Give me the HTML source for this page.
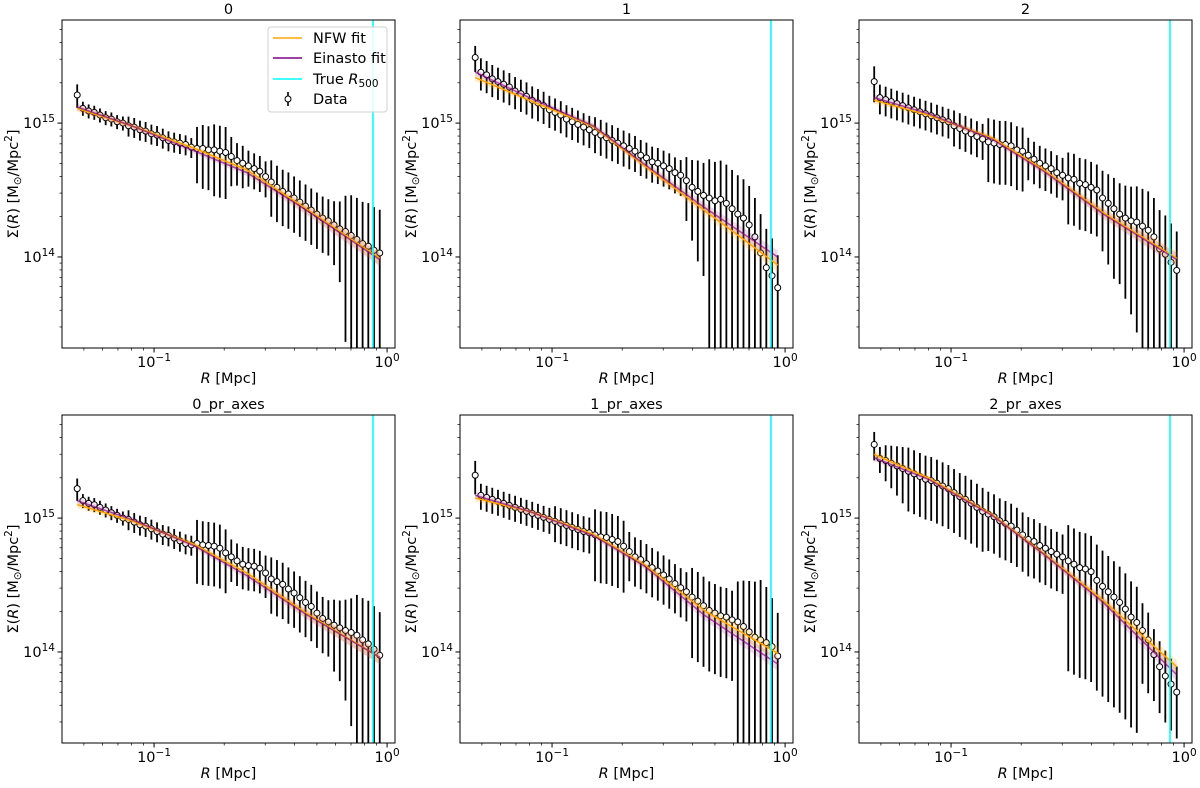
<!DOCTYPE html>
<html><head><meta charset="utf-8">
<style>
body{margin:0;background:#fff}
svg{display:block;font-family:"DejaVu Sans","Liberation Sans",sans-serif}
</style></head><body>
<svg id="fig" width="1200" height="788" viewBox="0 0 1200 788"></svg>
<script>
// ---- data ----
const R = [0.0468,0.0495,0.0524,0.0554,0.0586,0.0620,0.0656,0.0694,0.0735,0.0777,0.0822,0.0870,0.0920,0.0974,0.1030,0.1090,0.1153,0.1220,0.1291,0.1366,0.1445,0.1529,0.1618,0.1712,0.1811,0.1916,0.2028,0.2145,0.2270,0.2402,0.2541,0.2689,0.2844,0.3010,0.3184,0.3369,0.3565,0.3772,0.3990,0.4222,0.4467,0.4727,0.5000,0.5291,0.5598,0.5923,0.6266,0.6630,0.7015,0.7422,0.7852,0.8308,0.8790,0.9300];
const titles = ['0','1','2','0_pr_axes','1_pr_axes','2_pr_axes'];
const rTrue = [0.87,0.87,0.87,0.87,0.87,0.87];
const xTickExp = [-1,0];
const yTickExp = [14,15];
// log10 Sigma values
const logSig0 = [15.21,15.11,15.09,15.08,15.06,15.04,15.03,15.01,15.00,14.98,14.97,14.95,14.94,14.92,14.91,14.89,14.87,14.86,14.85,14.84,14.82,14.81,14.81,14.80,14.80,14.79,14.78,14.75,14.72,14.70,14.68,14.66,14.64,14.60,14.56,14.52,14.49,14.47,14.44,14.41,14.38,14.35,14.32,14.29,14.27,14.24,14.21,14.19,14.16,14.13,14.10,14.08,14.05,14.03];
const err0 = [0.2,0.12,0.12,0.12,0.12,0.12,0.12,0.12,0.12,0.17,0.17,0.17,0.17,0.17,0.17,0.17,0.17,0.17,0.17,0.17,0.17,0.45,0.5,0.5,0.55,0.55,0.55,0.4,0.35,0.35,0.3,0.3,0.3,0.3,0.45,0.45,0.45,0.45,0.45,0.45,0.45,0.45,0.45,0.45,0.45,0.5,0.6,0.85,1.0,1.05,1.05,1.1,1.1,1.1];
const logSig1 = [15.49,15.38,15.36,15.33,15.31,15.29,15.27,15.24,15.22,15.20,15.17,15.15,15.13,15.10,15.08,15.06,15.03,15.01,14.99,14.97,14.95,14.93,14.91,14.89,14.87,14.85,14.83,14.81,14.79,14.76,14.74,14.71,14.70,14.68,14.66,14.63,14.61,14.57,14.52,14.49,14.46,14.44,14.42,14.43,14.40,14.36,14.32,14.29,14.24,14.15,14.03,13.92,13.86,13.77];
const err1 = [0.22,0.27,0.27,0.27,0.27,0.27,0.27,0.27,0.27,0.27,0.27,0.27,0.27,0.27,0.27,0.27,0.27,0.27,0.27,0.27,0.27,0.3,0.3,0.3,0.3,0.3,0.3,0.3,0.3,0.3,0.3,0.3,0.3,0.3,0.3,0.3,0.3,0.5,0.6,0.7,0.75,0.95,0.95,0.95,0.95,0.95,0.95,0.95,0.95,0.95,0.95,0.95,0.9,0.75];
const logSig2 = [15.31,15.19,15.175,15.16,15.145,15.13,15.115,15.10,15.085,15.07,15.055,15.04,15.025,15.01,14.98,14.96,14.94,14.92,14.90,14.88,14.86,14.85,14.84,14.84,14.83,14.80,14.79,14.76,14.73,14.70,14.68,14.66,14.63,14.61,14.59,14.58,14.55,14.54,14.52,14.50,14.44,14.40,14.36,14.32,14.29,14.27,14.26,14.23,14.20,14.15,14.06,14.02,13.96,13.90];
const err2 = [0.3,0.25,0.25,0.25,0.25,0.25,0.25,0.25,0.25,0.25,0.25,0.25,0.25,0.25,0.3,0.3,0.3,0.3,0.3,0.3,0.5,0.5,0.5,0.5,0.5,0.5,0.5,0.35,0.35,0.35,0.35,0.35,0.35,0.35,0.55,0.55,0.55,0.55,0.55,0.55,0.6,0.65,0.7,0.7,0.75,0.8,0.85,0.9,0.95,0.95,0.95,0.95,0.95,0.95];
const logSig3 = [15.22,15.13,15.11,15.10,15.08,15.06,15.04,15.02,15.00,14.99,14.97,14.95,14.94,14.92,14.90,14.88,14.87,14.85,14.83,14.81,14.80,14.81,14.80,14.795,14.79,14.775,14.74,14.71,14.68,14.655,14.645,14.64,14.625,14.59,14.545,14.525,14.505,14.47,14.44,14.405,14.37,14.34,14.29,14.25,14.225,14.20,14.18,14.16,14.145,14.125,14.09,14.06,14.02,13.975];
const err3 = [0.19,0.12,0.12,0.12,0.12,0.12,0.12,0.12,0.12,0.17,0.17,0.17,0.17,0.17,0.17,0.17,0.17,0.17,0.17,0.17,0.17,0.5,0.5,0.5,0.5,0.5,0.5,0.35,0.35,0.35,0.35,0.35,0.35,0.35,0.45,0.45,0.45,0.45,0.45,0.45,0.45,0.45,0.45,0.45,0.45,0.55,0.6,0.7,0.8,1.0,1.05,1.1,1.1,1.1];
const logSig4 = [15.32,15.17,15.155,15.14,15.125,15.11,15.095,15.08,15.065,15.05,15.035,15.02,15.005,14.99,14.975,14.96,14.945,14.93,14.915,14.90,14.89,14.875,14.86,14.855,14.84,14.825,14.79,14.75,14.71,14.69,14.66,14.63,14.605,14.575,14.545,14.51,14.48,14.45,14.41,14.38,14.345,14.31,14.29,14.27,14.26,14.24,14.225,14.19,14.15,14.11,14.09,14.07,14.04,13.97];
const err4 = [0.28,0.22,0.22,0.22,0.22,0.22,0.22,0.22,0.22,0.22,0.22,0.22,0.22,0.22,0.3,0.3,0.3,0.3,0.3,0.3,0.3,0.55,0.55,0.55,0.55,0.55,0.55,0.4,0.4,0.4,0.4,0.4,0.4,0.4,0.4,0.4,0.4,0.4,0.65,0.65,0.65,0.65,0.65,0.65,0.65,0.65,1.0,1.2,1.4,1.6,1.8,1.6,1.3,1.1];
const logSig5 = [15.55,15.445,15.43,15.41,15.39,15.37,15.35,15.33,15.31,15.29,15.28,15.26,15.24,15.22,15.19,15.16,15.14,15.11,15.08,15.05,15.03,15.01,14.98,14.96,14.94,14.91,14.875,14.84,14.825,14.795,14.775,14.75,14.73,14.71,14.68,14.655,14.63,14.62,14.60,14.535,14.49,14.45,14.41,14.37,14.32,14.26,14.22,14.16,14.09,13.98,13.89,13.82,13.76,13.70];
const err5 = [0.24,0.22,0.3,0.35,0.4,0.45,0.5,0.5,0.5,0.5,0.5,0.5,0.5,0.5,0.5,0.5,0.5,0.5,0.5,0.5,0.47,0.47,0.47,0.47,0.47,0.47,0.47,0.47,0.47,0.47,0.47,0.47,0.47,0.47,0.85,0.85,0.85,0.85,0.85,0.85,0.85,0.85,0.85,0.85,0.85,0.85,0.85,0.6,0.6,0.55,0.55,0.55,0.55,0.55];
// model fits (log10 Sigma) at node radii
const modelR = [0.0468,0.08,0.15,0.25,0.45,0.93];
const nfw0 = [15.11,14.98,14.81,14.65,14.36,13.99];
const ein0 = [15.12,14.98,14.79,14.63,14.35,13.98];
const nfw1 = [15.34,15.17,14.975,14.68,14.35,13.94];
const ein1 = [15.38,15.19,14.98,14.69,14.37,14.00];
const nfw2 = [15.17,15.06,14.89,14.65,14.33,13.99];
const ein2 = [15.19,15.07,14.88,14.64,14.32,13.98];
const nfw3 = [15.10,14.98,14.80,14.59,14.29,13.96];
const ein3 = [15.13,14.99,14.79,14.57,14.28,13.96];
const nfw4 = [15.15,15.05,14.88,14.65,14.31,13.99];
const ein4 = [15.17,15.05,14.87,14.64,14.275,13.91];
const nfw5 = [15.475,15.30,15.025,14.735,14.385,13.89];
const ein5 = [15.45,15.29,15.02,14.73,14.37,13.83];
const bandW = [0.025,0.02,0.02,0.025,0.035,0.05];

const panels = [
  {sig:logSig0,err:err0,nfw:nfw0,ein:ein0},
  {sig:logSig1,err:err1,nfw:nfw1,ein:ein1},
  {sig:logSig2,err:err2,nfw:nfw2,ein:ein2},
  {sig:logSig3,err:err3,nfw:nfw3,ein:ein3},
  {sig:logSig4,err:err4,nfw:nfw4,ein:ein4},
  {sig:logSig5,err:err5,nfw:nfw5,ein:ein5}
];

// ---- drawing ----
const NS='http://www.w3.org/2000/svg';
const svg=document.getElementById('fig');
function mk(tag,attrs,parent){const e=document.createElementNS(NS,tag);for(const k in attrs)e.setAttribute(k,attrs[k]);(parent||svg).appendChild(e);return e;}
const lefts=[62,460,859], tops=[20,415], W=333, H=328;
const XMIN=-1.395,XMAX=0.034,YMIN=13.32,YMAX=15.77;
const defs=mk('defs',{});
const FS=14.5, SUP=10.5;

panels.forEach((p,k)=>{
  const L=lefts[k%3], T=tops[Math.floor(k/3)];
  const xs=r=>L+(Math.log10(r)-XMIN)/(XMAX-XMIN)*W;
  const xl=l=>L+(l-XMIN)/(XMAX-XMIN)*W;
  const ys=l=>T+(YMAX-l)/(YMAX-YMIN)*H;
  const g=mk('g',{});
  
  
  const cp=mk('clipPath',{id:'clip'+k},defs);
  mk('rect',{x:L,y:T,width:W,height:H},cp);
  const plot=mk('g',{'clip-path':'url(#clip'+k+')'},g);
  
  

  p.sig.forEach((l,i)=>{
    const v=Math.pow(10,l), e=p.err[i]*v;
    const top=Math.log10(v+e);
    const lo=v-e>0?Math.log10(v-e):YMIN-1;
    const bar=mk('line',{x1:xs(R[i]),x2:xs(R[i]),y1:ys(top),y2:Math.min(ys(lo),T+H+5),stroke:'#000','stroke-width':1.8},plot);
    
    
  });
  p.sig.forEach((l,i)=>{
    const c=mk('circle',{cx:xs(R[i]),cy:ys(l),r:3,fill:'#fff',stroke:'#000','stroke-width':1},plot);
    
    
  });
  function band(arr,color,op,name){
    let pts=[];
    modelR.forEach((r,j)=>pts.push(xs(r)+','+ys(arr[j]+bandW[j])));
    for(let j=modelR.length-1;j>=0;j--)pts.push(xs(modelR[j])+','+ys(arr[j]-bandW[j]));
    const b=mk('polygon',{points:pts.join(' '),fill:color,'fill-opacity':op,stroke:'none'},plot);
    
    
  }
  band(p.nfw,'#ffa500',0.22,'nfw-band');
  band(p.ein,'#800080',0.14,'einasto-band');
  function line(arr,color,op,name){
    const pts=modelR.map((r,j)=>xs(r)+','+ys(arr[j])).join(' ');
    const ln=mk('polyline',{points:pts,fill:'none',stroke:color,'stroke-width':1.5,'stroke-opacity':op,'stroke-linejoin':'round'},plot);
    
    
  }
  line(p.nfw,'#ffa500',1,'nfw-fit-line');
  line(p.ein,'#800080',0.65,'einasto-fit-line');
  const cy=mk('line',{x1:xs(rTrue[k]),x2:xs(rTrue[k]),y1:T,y2:T+H,stroke:'#00ffff','stroke-width':1.6},plot);
  
  

  const fr=mk('rect',{x:L,y:T,width:W,height:H,fill:'none',stroke:'#000','stroke-width':1},g);
  
  

  for(let d=13;d<=15;d++){for(let m=1;m<=9;m++){
    const l=d+Math.log10(m); if(l<YMIN||l>YMAX)continue;
    const len=m===1?4.5:2.5;
    const t=mk('line',{x1:L-len,x2:L,y1:ys(l),y2:ys(l),stroke:'#000','stroke-width':m===1?1:0.7},g);
    
    
  }}
  yTickExp.forEach(ex=>{
    const t=mk('text',{x:L-7,y:ys(ex)+5,'text-anchor':'end','font-size':FS,fill:'#000'},g);
    
    
    t.appendChild(document.createTextNode('10'));
    const s=mk('tspan',{'font-size':SUP,dy:-6},t); s.textContent=String(ex);
  });
  for(let d=-2;d<=0;d++){for(let m=1;m<=9;m++){
    const l=d+Math.log10(m); if(l<XMIN||l>XMAX)continue;
    const len=m===1?4.5:2.5;
    const t=mk('line',{x1:xl(l),x2:xl(l),y1:T+H,y2:T+H+len,stroke:'#000','stroke-width':m===1?1:0.7},g);
    
    
  }}
  xTickExp.forEach(ex=>{
    const t=mk('text',{x:xl(ex),y:T+H+19,'text-anchor':'middle','font-size':FS,fill:'#000'},g);
    
    
    t.appendChild(document.createTextNode('10'));
    const s=mk('tspan',{'font-size':SUP,dy:-6},t); s.textContent=ex<0?'\u2212'+(-ex):String(ex);
  });
  const xt=mk('text',{x:L+W/2,y:T+H+35,'text-anchor':'middle','font-size':FS},g);
  
  
  const xi=mk('tspan',{'font-style':'italic'},xt); xi.textContent='R';
  xt.appendChild(document.createTextNode(' [Mpc]'));
  const yx=L-44, yy=T+H/2;
  const yt=mk('text',{x:yx,y:yy,'text-anchor':'middle','font-size':FS,transform:'rotate(-90 '+yx+' '+yy+')'},g);
  
  
  yt.appendChild(document.createTextNode('\u03A3('));
  const yi=mk('tspan',{'font-style':'italic'},yt); yi.textContent='R';
  yt.appendChild(document.createTextNode(') [M'));
  const sub=mk('tspan',{'font-size':SUP,dy:3},yt); sub.textContent='\u2299';
  const rest=mk('tspan',{dy:-3},yt); rest.textContent='/Mpc';
  const sup=mk('tspan',{'font-size':SUP,dy:-6},yt); sup.textContent='2';
  const cl=mk('tspan',{dy:6},yt); cl.textContent=']';
  const tt=mk('text',{x:L+W/2,y:T-6,'text-anchor':'middle','font-size':FS},g);
  
  
  tt.textContent=titles[k];
});

const lg=mk('g',{});


mk('rect',{x:268,y:27,width:119,height:85,rx:3,fill:'#fff','fill-opacity':0.85,stroke:'#d0d0d0','stroke-width':1},lg);
const legendLabels=['NFW fit','Einasto fit','True R500','Data'];
const legendColors=['#ffa500','#800080','#00ffff',null];
const legendY=[38,58,79,99];
legendLabels.forEach((lab,i)=>{
  const y=legendY[i];
  const ent=mk('g',{},lg);
  
  
  if(legendColors[i]){
    mk('line',{x1:273,x2:302,y1:y,y2:y,stroke:legendColors[i],'stroke-width':1.6},ent);
  } else {
    mk('line',{x1:288,x2:288,y1:y-7,y2:y+7,stroke:'#000','stroke-width':1.6},ent);
    mk('circle',{cx:288,cy:y,r:3,fill:'#fff',stroke:'#000','stroke-width':1},ent);
  }
  const t=mk('text',{x:313,y:y+5,'font-size':FS},ent);
  if(i===2){
    t.appendChild(document.createTextNode('True '));
    const it=mk('tspan',{'font-style':'italic'},t); it.textContent='R';
    const sb=mk('tspan',{'font-size':SUP,dy:3},t); sb.textContent='500';
  } else t.textContent=lab;
});
</script>
</body></html>
